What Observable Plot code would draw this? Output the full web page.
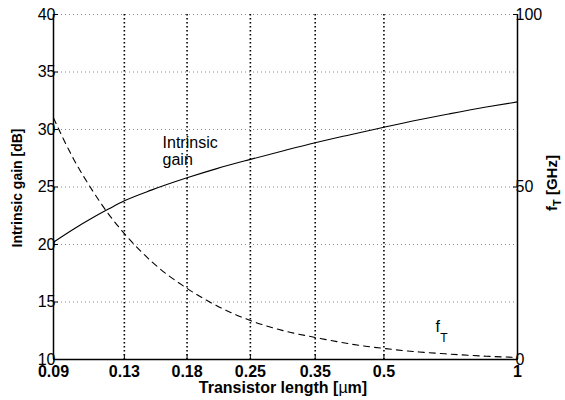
<!DOCTYPE html>
<html><head><meta charset="utf-8">
<script src="https://cdn.jsdelivr.net/npm/d3@7"></script>
<script src="https://cdn.jsdelivr.net/npm/@observablehq/plot@0.6"></script>
<style>body{margin:0;background:#fff}svg{font-family:"Liberation Sans",Arial,sans-serif}</style>
</head><body><div id="chart"></div>
<script>
const xTicks = [0.09, 0.13, 0.18, 0.25, 0.35, 0.5, 1];
const gainTicks = [10, 15, 20, 25, 30, 35, 40];
const ftTicks = [0, 50, 100];
const lengths = [0.09, 0.1, 0.11, 0.12, 0.13, 0.15, 0.18, 0.21, 0.25, 0.3, 0.35, 0.42, 0.5, 0.6, 0.7, 0.85, 1];
const gain =    [20.2, 21.35, 22.3, 23.1, 23.8, 24.75, 25.8, 26.6, 27.4, 28.2, 28.85, 29.55, 30.2, 30.85, 31.35, 31.95, 32.4];
const ft =      [70, 58, 49.1, 42, 36.5, 28.3, 20.6, 15.6, 11.3, 8.2, 6.4, 4.5, 3.2, 2.18, 1.58, 0.95, 0.6];

const data = lengths.map((L, i) => ({L, g: gain[i], f: ft[i]}));
const ftToY = f => 10 + f * 30 / 100;

const plot = Plot.plot({
  width: 565, height: 400,
  marginLeft: 53, marginRight: 48, marginTop: 14, marginBottom: 41,
  style: {fontFamily: '"Liberation Sans", Arial, sans-serif', fontSize: "16px", color: "#000", background: "#fff"},
  x: {type: "log", domain: [0.09, 1]},
  y: {domain: [10, 40]},
  marks: [
    Plot.ruleY(gainTicks.slice(1), {stroke: "#888", strokeDasharray: "1,3", strokeWidth: 1}),
    Plot.ruleX(xTicks.slice(1, -1), {stroke: "#000", strokeDasharray: "1.5,2.5", strokeWidth: 1.6}),
    Plot.ruleY([10], {stroke: "#000", strokeWidth: 1.5}),
    Plot.ruleX([0.09], {stroke: "#000", strokeWidth: 1.5}),
    Plot.ruleX([1], {stroke: "#000", strokeWidth: 1.5}),
    Plot.axisX({ticks: xTicks, tickFormat: d => String(d), tickSize: -5, tickPadding: 11, fontWeight: "bold", fontSize: 16, label: null}),
    Plot.axisY({ticks: gainTicks, tickSize: -5, tickPadding: 3, fontSize: 16, label: null}),
    Plot.axisY({anchor: "right", ticks: ftTicks.map(ftToY), tickFormat: d => String(Math.round((d - 10) * 100 / 30)), tickSize: -5, tickPadding: 3, fontSize: 16, label: null}),
    Plot.line(data, {x: "L", y: "g", stroke: "#000", strokeWidth: 1.1, curve: "monotone-x"}),
    Plot.line(data, {x: "L", y: d => ftToY(d.f), stroke: "#000", strokeWidth: 1.1, strokeDasharray: "6,5", curve: "monotone-x"}),
    Plot.text(["Intrinsic", "gain"], {x: [0.1585, 0.1585], y: [28.83, 27.35], text: d => d, textAnchor: "start", fontSize: 16}),
    Plot.text(["f"], {x: [0.653], y: [12.8], text: d => d, textAnchor: "start", fontSize: 16}),
    Plot.text(["T"], {x: [0.67], y: [11.85], text: d => d, textAnchor: "start", fontSize: 12})
  ]
});
document.getElementById("chart").appendChild(plot);

const svg = d3.select(plot);
svg.append("text").attr("transform", "translate(22,188) rotate(-90)").attr("text-anchor", "middle")
  .attr("font-weight", "bold").attr("font-size", 14).text("Intrinsic gain [dB]");
const rt = svg.append("text").attr("transform", "translate(557,183) rotate(-90)").attr("text-anchor", "middle")
  .attr("font-weight", "bold").attr("font-size", 15);
rt.append("tspan").text("f");
rt.append("tspan").attr("font-size", 11).attr("dy", 4).text("T");
rt.append("tspan").attr("dy", -4).text(" [GHz]");
const bt = svg.append("text").attr("x", 283).attr("y", 393).attr("text-anchor", "middle")
  .attr("font-weight", "bold").attr("font-size", 16);
bt.append("tspan").text("Transistor length [");
bt.append("tspan").attr("font-weight", "normal").text("µ");
bt.append("tspan").text("m]");
</script></body></html>
